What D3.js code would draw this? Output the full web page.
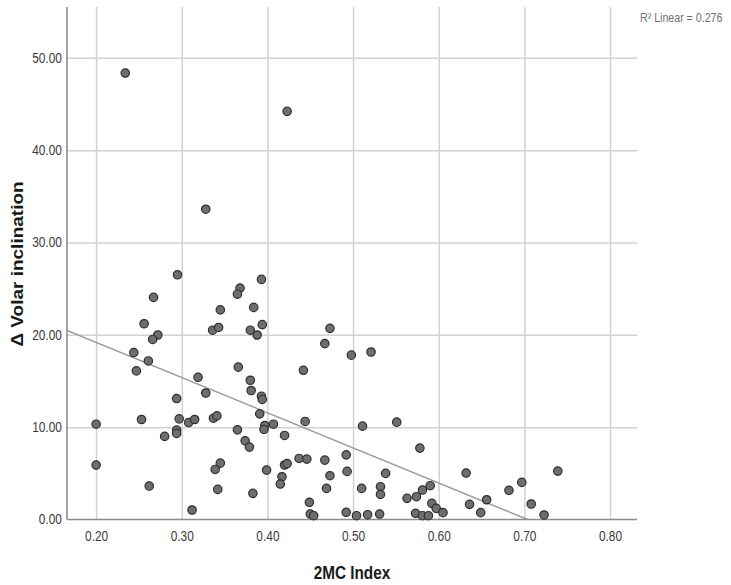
<!DOCTYPE html>
<meta charset="utf-8">
<style type="text/css">
    body { margin: 0; background: #fff; }
    text { font-family: "Liberation Sans", Arial, sans-serif; }
    .grid line { stroke: #d2d2d2; stroke-width: 1.5; }
    .grid .domain { display: none; }
    .tick-labels .domain { display: none; }
    .tick-labels text { font-size: 14px; fill: #3a3a3a; }
    .axis-line { stroke: #8c8c8c; stroke-width: 1.6; }
    .fit { stroke: #9a9a9a; stroke-width: 1.5; fill: none; }
    .dot { fill: #6e6e6e; stroke: #2e2e2e; stroke-width: 1.2; }
    .title { font-weight: bold; fill: #1a1a1a; }
</style>
<body>
</body>
<script src="https://cdn.jsdelivr.net/npm/d3@7"></script>
<script>

    // 2MC index (x) and change in volar inclination (y)
    var mcIndex = [
        0.234, 0.423, 0.328, 0.295, 0.368, 0.365, 0.267, 0.345, 0.384, 0.393,
        0.256, 0.272, 0.266, 0.336, 0.343, 0.380, 0.388, 0.394, 0.244, 0.261,
        0.247, 0.366, 0.473, 0.467, 0.498, 0.521, 0.442, 0.319, 0.380, 0.381,
        0.328, 0.294, 0.393, 0.394, 0.391, 0.253, 0.200, 0.297, 0.308, 0.315,
        0.337, 0.341, 0.294, 0.294, 0.280, 0.365, 0.374, 0.379, 0.200, 0.345,
        0.339, 0.262, 0.342, 0.383, 0.312, 0.444, 0.511, 0.551, 0.397, 0.396,
        0.407, 0.420, 0.437, 0.446, 0.467, 0.492, 0.578, 0.420, 0.423, 0.399,
        0.493, 0.417, 0.415, 0.473, 0.538, 0.469, 0.510, 0.532, 0.532, 0.449,
        0.450, 0.454, 0.492, 0.504, 0.517, 0.531, 0.563, 0.574, 0.581, 0.590,
        0.592, 0.597, 0.605, 0.573, 0.581, 0.588, 0.632, 0.739, 0.697, 0.682,
        0.656, 0.636, 0.708, 0.649, 0.723
    ];
    var volarChange = [
        48.35, 44.20, 33.60, 26.50, 25.06, 24.40, 24.05, 22.70, 22.97, 26.00,
        21.20, 19.98, 19.50, 20.50, 20.80, 20.50, 19.98, 21.10, 18.08, 17.17,
        16.09, 16.50, 20.70, 19.05, 17.80, 18.14, 16.16, 15.40, 15.08, 13.97,
        13.70, 13.10, 13.35, 13.00, 11.44, 10.83, 10.32, 10.90, 10.50, 10.83,
        10.97, 11.22, 9.68, 9.32, 9.00, 9.71, 8.52, 7.84, 5.89, 6.10,
        5.42, 3.62, 3.26, 2.83, 1.03, 10.62, 10.11, 10.54, 10.18, 9.75,
        10.32, 9.10, 6.61, 6.54, 6.43, 7.00, 7.73, 5.90, 6.05, 5.35,
        5.21, 4.63, 3.84, 4.74, 4.99, 3.37, 3.37, 3.55, 2.72, 1.86,
        0.59, 0.41, 0.78, 0.41, 0.52, 0.59, 2.29, 2.47, 3.19, 3.66,
        1.75, 1.21, 0.74, 0.67, 0.41, 0.41, 5.03, 5.24, 4.02, 3.16,
        2.14, 1.64, 1.68, 0.74, 0.49
    ];
    var xTicks = [0.2, 0.3, 0.4, 0.5, 0.6, 0.7, 0.8];
    var yTicks = [0, 10, 20, 30, 40, 50];
    var xDomain = [0.166, 0.8315];
    var yDomain = [0, 55.5];
    var r2Label = "R\u00b2 Linear = 0.276";

    var margin = {top: 7, right: 94, bottom: 65.5, left: 67}
        , width = 731 - margin.left - margin.right
        , height = 585 - margin.top - margin.bottom
        , squish = 0.85; // the source picture is narrowed horizontally

    var xScale = d3.scaleLinear().domain(xDomain).range([0, width]);
    var yScale = d3.scaleLinear().domain(yDomain).range([height, 0]);

    var dataset = mcIndex.map(function(d, i) { return {x: d, y: volarChange[i]}; });

    var svg = d3.select("body").append("svg")
        .attr("width", 731)
        .attr("height", 585)
        .append("g")
        .attr("transform", "translate(" + margin.left + "," + margin.top + ")");

    // grid lines
    svg.append("g")
        .attr("class", "grid")
        .attr("transform", "translate(0," + height + ")")
        .call(d3.axisBottom(xScale).tickValues(xTicks).tickSize(-height).tickFormat(""));
    svg.append("g")
        .attr("class", "grid")
        .call(d3.axisLeft(yScale).tickValues(yTicks.slice(1)).tickSize(-width).tickFormat(""));

    // tick labels
    svg.append("g")
        .attr("class", "tick-labels")
        .attr("transform", "translate(0," + height + ")")
        .call(d3.axisBottom(xScale).tickValues(xTicks).tickSize(0).tickPadding(12).tickFormat(d3.format(".2f")))
        .selectAll("text").attr("transform", "scale(" + squish + ",1)");
    svg.append("g")
        .attr("class", "tick-labels")
        .call(d3.axisLeft(yScale).tickValues(yTicks).tickSize(0).tickPadding(6).tickFormat(d3.format(".2f")))
        .selectAll("text").attr("transform", "scale(" + squish + ",1)");

    // axis lines
    svg.append("line").attr("class", "axis-line")
        .attr("x1", 0).attr("x2", 0).attr("y1", 0).attr("y2", height);
    svg.append("line").attr("class", "axis-line")
        .attr("x1", 0).attr("x2", width).attr("y1", height).attr("y2", height);

    // least squares fit line, clipped to the plot area
    var mx = d3.mean(mcIndex), my = d3.mean(volarChange);
    var sxy = d3.sum(dataset, function(d) { return (d.x - mx) * (d.y - my); });
    var sxx = d3.sum(dataset, function(d) { return (d.x - mx) * (d.x - mx); });
    var slope = sxy / sxx, intercept = my - slope * mx;
    var xEnd = Math.min(xDomain[1], -intercept / slope);

    svg.append("clipPath").attr("id", "plot-clip")
        .append("rect").attr("width", width).attr("height", height);

    svg.append("line").attr("class", "fit")
        .attr("clip-path", "url(#plot-clip)")
        .attr("x1", xScale(xDomain[0])).attr("y1", yScale(intercept + slope * xDomain[0]))
        .attr("x2", xScale(xEnd)).attr("y2", yScale(intercept + slope * xEnd));

    // points
    svg.selectAll(".dot")
        .data(dataset)
        .enter().append("circle")
        .attr("class", "dot")
        .attr("cx", function(d) { return xScale(d.x); })
        .attr("cy", function(d) { return yScale(d.y); })
        .attr("r", 4.2);

    // titles
    svg.append("text")
        .attr("class", "title")
        .attr("text-anchor", "middle")
        .attr("font-size", 18)
        .attr("transform", "translate(" + (352 - margin.left) + "," + (579 - margin.top) + ") scale(" + squish + ",1)")
        .text("2MC Index");

    svg.append("text")
        .attr("class", "title")
        .attr("text-anchor", "middle")
        .attr("font-size", 19)
        .attr("transform", "translate(" + (23 - margin.left) + "," + (264 - margin.top) + ") rotate(-90) scale(1," + squish + ")")
        .text("\u0394 Volar inclination");

    svg.append("text")
        .attr("fill", "#707070")
        .attr("font-size", 12.5)
        .attr("transform", "translate(" + (640 - margin.left) + "," + (22 - margin.top) + ") scale(" + squish + ",1)")
        .text(r2Label);
</script>
